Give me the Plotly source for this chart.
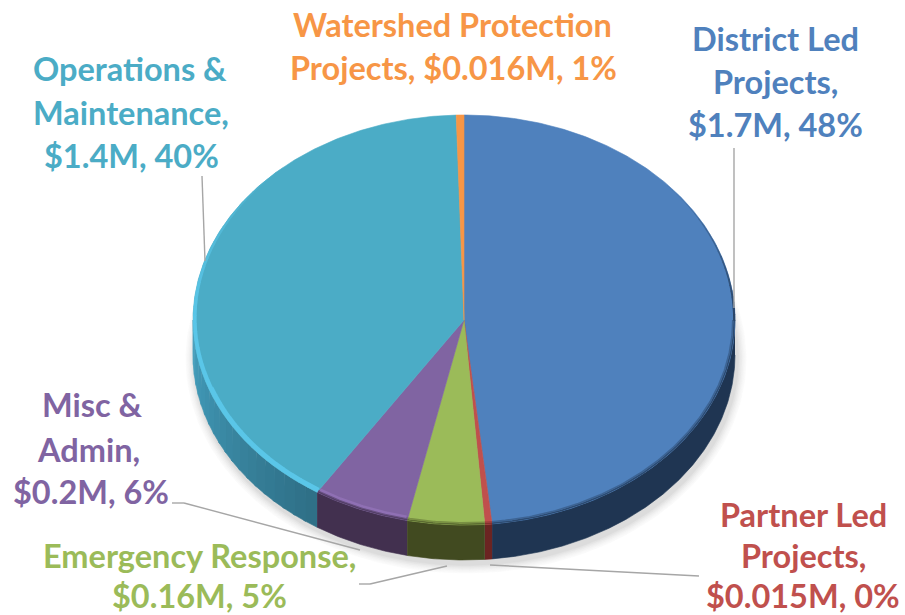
import numpy as np
import plotly.graph_objects as go

# ---- data ----
categories = ["District Led Projects", "Partner Led Projects", "Emergency Response",
              "Misc & Admin", "Operations & Maintenance", "Watershed Protection Projects"]
values = [1.7, 0.015, 0.16, 0.2, 1.4, 0.016]
top_colors = ["#4F81BD", "#C0504D", "#9BBB59", "#8064A2", "#4BACC6", "#F79646"]
side_colors = ["#1F3552", "#6B2422", "#414A20", "#42304F", "#2F7087", "#A8601F"]
label_lines = [
    ["District Led", "Projects,", "$1.7M, 48%"],
    ["Partner Led", "Projects,", "$0.015M, 0%"],
    ["Emergency Response,", "$0.16M, 5%"],
    ["Misc &", "Admin,", "$0.2M, 6%"],
    ["Operations &", "Maintenance,", "$1.4M, 40%"],
    ["Watershed Protection", "Projects, $0.016M, 1%"],
]

# ---- layout ----
W, H = 905, 615
CX, CY, RX, RY, DEPTH = 464, 320, 271, 205, 35
PERSPECTIVE = 0.022
label_anchor = [
    [(775, 38), (775, 81), (775, 124)],
    [(803, 514), (803, 555), (803, 595)],
    [(199, 555), (199, 595)],
    [(92, 404), (88, 449), (91, 491)],
    [(130, 68), (131, 112), (131, 155)],
    [(452, 24), (453, 67)],
]
leaders = [
    [(734, 148), (734, 308)],
    [(490, 565), (699, 576)],
    [(359, 584), (370, 584), (447, 566)],
    [(172, 503), (184, 503), (360, 550)],
    [(202, 176), (205, 261)],
]
LABEL_SIZE = 32.5
LEADER = "#A6A6A6"


def hex2rgb(c):
    return np.array([int(c[i:i + 2], 16) for i in (1, 3, 5)], float)


def mix(a, b, t):
    r = hex2rgb(a) * (1 - t) + hex2rgb(b) * t
    return "rgb(%d,%d,%d)" % tuple(r.round())


def arc(a0, a1, n=None, inset=0.0, dy=0.0):
    n = n or max(3, int(abs(a1 - a0) * 120))
    t = np.linspace(a0, a1, n)
    return CX + (RX - inset) * np.sin(t), CY + dy - (RY - inset) * np.cos(t)


fig = go.Figure()


def poly(x, y, color):
    fig.add_trace(go.Scatter(x=x, y=y, mode="lines", fill="toself", fillcolor=color,
                             line=dict(width=0.6, color=color), hoverinfo="skip"))


def stroke(x, y, color, width):
    fig.add_trace(go.Scatter(x=x, y=y, mode="lines", line=dict(width=width, color=color),
                             hoverinfo="skip"))


total = sum(values)
edges = 2 * np.pi * np.concatenate([[0], np.cumsum(values)]) / total
edges = edges - PERSPECTIVE * (1 - np.cos(edges)) / 2

# soft drop shadow
for k, c in zip(range(12, 0, -2), ["#FAFAFA", "#F6F6F6", "#F1F1F1", "#EBEBEB", "#E4E4E4", "#DCDCDC"]):
    t = np.linspace(0, 2 * np.pi, 240)
    poly(CX + 2 + (RX + k * 0.75) * np.sin(t), CY + DEPTH + 4 - (RY + k * 0.75) * np.cos(t), c)

# side wall, lower half only
HALF0, HALF1 = np.pi / 2, 3 * np.pi / 2
for i in range(len(values)):
    a0, a1 = max(edges[i], HALF0), min(edges[i + 1], HALF1)
    if a1 <= a0:
        continue
    if categories[i].startswith("Operations"):
        steps = np.linspace(a0, a1, 21)
        for j in range(20):
            x, y = arc(steps[j], steps[j + 1], 6)
            x2, y2 = arc(steps[j + 1] + 0.01, steps[j], 6, dy=DEPTH)
            poly(np.r_[x, x2], np.r_[y, y2], mix(side_colors[i], "#449FBE", j / 19))
    else:
        x, y = arc(a0, a1)
        x2, y2 = arc(a1, a0, dy=DEPTH)
        poly(np.r_[x, x2], np.r_[y, y2], side_colors[i])

# top faces
for i in range(len(values)):
    x, y = arc(edges[i], edges[i + 1])
    poly(np.r_[CX, x, CX], np.r_[CY, y, CY], top_colors[i])

# soft blend from the top face into the wall
blend_layers = [(0.8, 0.72, 1.6), (2.2, 0.38, 1.6)]
for i in range(len(values)):
    a0, a1 = max(edges[i], HALF0), min(edges[i + 1], HALF1)
    if a1 <= a0 or categories[i].startswith("Operations"):
        continue
    for inset, t, w in blend_layers:
        x, y = arc(a0, a1, inset=inset)
        stroke(x, y, mix(top_colors[i], side_colors[i], t), w)

# darkened right edge of the large slice
steps = np.linspace(0.85, HALF0, 26)
for j in range(25):
    f = j / 24
    x, y = arc(steps[j], steps[j + 1] + 0.004, 4, inset=0.8)
    stroke(x, y, mix(top_colors[0], side_colors[0], 0.1 + 0.7 * f), 0.6 + 1.6 * f)

# bright rim of the left-hand slices
i_ops = categories.index("Operations & Maintenance")
steps = np.linspace(edges[i_ops], 5.55, 46)
for j in range(45):
    f = j / 44
    w = 5.5 * (1 - f) ** 0.7 + 0.4 if f > 0.35 else 5
    x, y = arc(steps[j], steps[j + 1] + 0.004, 4, inset=w / 2)
    stroke(x, y, mix("#5AC6E8", top_colors[i_ops], max(0, f - 0.55) * 2), w)

i_misc = categories.index("Misc & Admin")
x, y = arc(edges[i_misc] + 0.005, edges[i_misc + 1] - 0.005, inset=3.6)
stroke(x, y, "#8F70B4", 2.6)

# leader lines
shapes = []
for pts in leaders:
    for (x0, y0), (x1, y1) in zip(pts[:-1], pts[1:]):
        shapes.append(dict(type="line", x0=x0, y0=y0, x1=x1, y1=y1, xref="x", yref="y",
                           line=dict(color=LEADER, width=1.4)))

# labels
annotations = []
for lines, anchors, color in zip(label_lines, label_anchor, top_colors):
    for text, (x, y) in zip(lines, anchors):
        annotations.append(dict(x=x, y=y, xref="x", yref="y", text="<b>%s</b>" % text, showarrow=False,
                                xanchor="center", yanchor="middle",
                                font=dict(family="Lato, Carlito, sans-serif", size=LABEL_SIZE, color=color)))

fig.update_layout(
    width=W, height=H, margin=dict(l=0, r=0, t=0, b=0), showlegend=False,
    paper_bgcolor="white", plot_bgcolor="white",
    xaxis=dict(range=[0, W], visible=False, fixedrange=True),
    yaxis=dict(range=[H, 0], visible=False, fixedrange=True),
    shapes=shapes, annotations=annotations,
)
fig.write_html("out.html", post_script="document.body.style.margin='0';",
               config=dict(displayModeBar=False))
